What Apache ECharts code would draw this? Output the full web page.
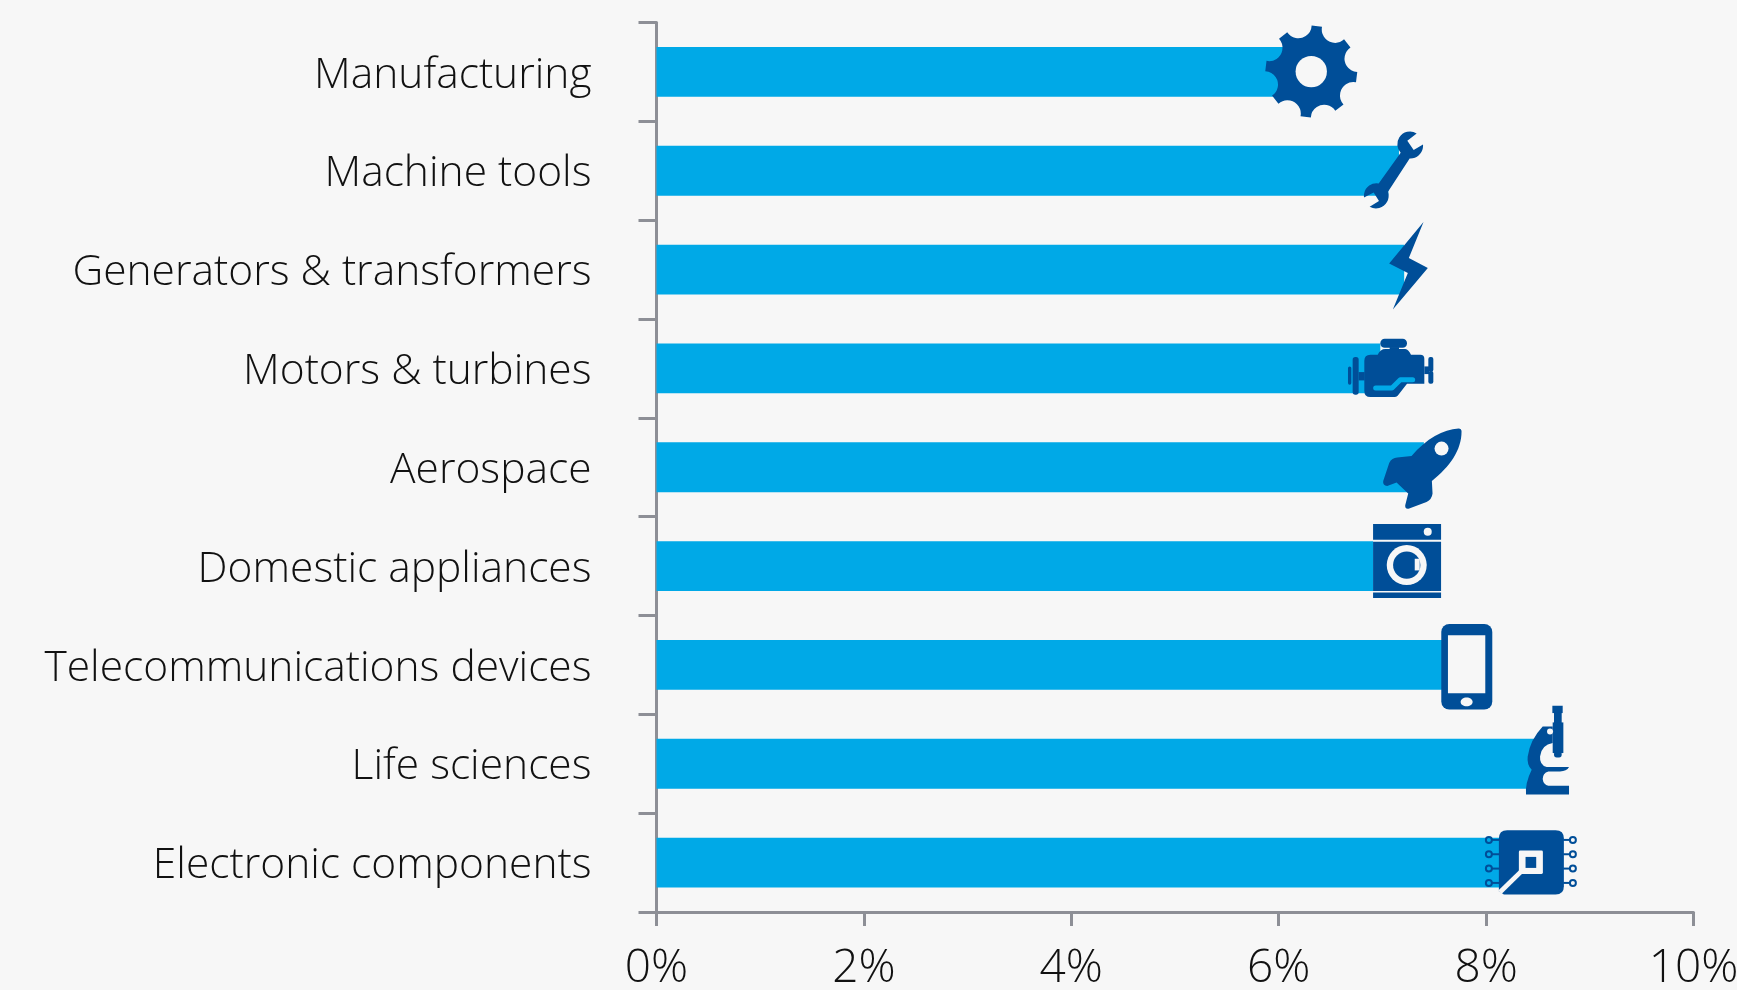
<!DOCTYPE html>
<html><head><meta charset="utf-8">
<style>html,body{margin:0;padding:0;background:#f7f7f7}#c{width:1737px;height:990px}</style>
<script src="https://cdn.jsdelivr.net/npm/echarts@6/dist/echarts.min.js"></script>
</head><body><div id="c"></div>
<script>
const categories = ['Manufacturing','Machine tools','Generators & transformers','Motors & turbines','Aerospace','Domestic appliances','Telecommunications devices','Life sciences','Electronic components'];
const values = [6.06,7.16,7.21,6.98,7.40,6.91,7.60,8.52,8.30];
const tickLabels = ['0%','2%','4%','6%','8%','10%'];

const BG='#f7f7f7', BAR='#00a9e7', ICON='#004e98', AXIS='#8d8f96', TEXT='#111111';
const FONT='"Open Sans", "Noto Sans", sans-serif';

function gearPath(cx,cy){
  let d='';const R=138,H=6.5,start=-83;
  const p=(a,r)=>[(cx+r*Math.cos(a*Math.PI/180)).toFixed(1),(cy+r*Math.sin(a*Math.PI/180)).toFixed(1)].join(' ');
  for(let i=0;i<8;i++){
    const a=start+45*i;
    d+=(i?'L ':'M ')+p(a-H,R)+' L '+p(a+H,R)+' A 40 40 0 0 0 '+p(a+45-H,R)+' ';
  }
  return d+'Z';
}
const circ=(cx,cy,r,fill,extra)=>Object.assign({type:'circle',shape:{cx,cy,r},style:{fill}},extra||{});
const rr=(x,y,w,h,r,fill)=>({type:'rect',shape:{x,y,width:w,height:h,r},style:{fill}});
const pth=(d,fill)=>({type:'path',shape:{pathData:d},style:{fill}});
const pins=[691,734,777,820];

// icon artwork, in a 3x drawing frame; anchor = point of the frame that sits on the bar end
const icons=[
 {anchor:[135,186],parts:[pth(gearPath(214,185),ICON),circ(214,185,47,BG)]},
 {anchor:[478,482],parts:[
   pth('M 512 436 L 446 540 L 446 565 L 510 565 Z',BG),
   pth('M 531 370 A 38 38 0 0 0 483 428 L 417 520 A 38 38 0 0 0 373 562 L 402 547 L 418 573 L 390 590 A 38 38 0 0 0 445 545 L 510 445 A 38 38 0 0 0 550 403 L 522 420 L 503 392 Z',ICON)]},
 {anchor:[492,780],parts:[pth('M 550 637 L 506 745 L 563 775 L 458 900 L 503 790 L 447 762 Z',ICON)]},
 {anchor:[240,144],parts:[
   rr(240,55,80,27,13,ICON),rr(268,80,28,12,0,ICON),
   pth('M 210 103 L 232 103 Q 240 86 255 86 L 315 86 Q 325 88 332 103 L 360 103 Q 372 103 372 115 L 372 190 L 320 190 L 292 226 Q 288 230 282 230 L 210 230 Q 192 230 192 212 L 192 121 Q 192 103 210 103 Z',ICON),
   rr(157,110,18,113,8,ICON),rr(143,138,10,55,5,ICON),rr(175,155,18,25,0,ICON),
   rr(372,138,14,23,0,ICON),rr(384,110,15,44,6,ICON),rr(384,152,15,38,6,ICON),
   {type:'polyline',shape:{points:[[226,203],[275,203],[300,178],[337,178]]},style:{stroke:BAR,lineWidth:15,lineCap:'round',lineJoin:'round',fill:null}}]},
 {anchor:[372,441],parts:[
   pth('M 476 325 C 430 328 380 355 335 407 L 292 412 Q 276 413 268 428 L 250 482 Q 248 496 262 497 L 290 487 L 325 520 L 316 555 Q 315 568 328 565 L 380 545 Q 396 538 398 520 L 396 482 C 450 440 485 390 485 334 Q 485 325 476 325 Z',ICON),
   circ(425,385,21,BG)]},
 {anchor:[219,738],parts:[
   rr(219,612,204,47,0,ICON),rr(219,665,204,148,0,ICON),rr(219,817,204,17,0,ICON),
   circ(383,635,12,BG),circ(320,735,60,BG),circ(320,735,41,ICON),rr(344,716,15,35,0,BG)]},
 {anchor:[135,165],parts:[
   rr(125,42,153,257,24,ICON),rr(145,76,112,174,0,BG),
   {type:'ellipse',shape:{cx:201,cy:276,rx:18,ry:13},style:{fill:BG}}]},
 {anchor:[420,462],parts:[
   rr(457,288,31,22,0,ICON),rr(462,308,23,34,0,ICON),rr(458,338,32,92,0,ICON),rr(462,425,23,18,8,ICON),
   pth('M 428 350 L 458 350 L 458 400 Q 425 405 420 440 Q 418 465 440 472 L 507 472 Q 500 485 480 485 L 445 485 Q 428 490 428 508 Q 430 525 445 528 L 507 528 L 507 554 L 378 554 Q 375 520 395 480 Q 380 465 383 440 Q 390 390 428 350 Z',ICON),
   circ(450,365,9,BG)]},
 {anchor:[350,759],parts:[
   ...pins.flatMap(y=>[
     rr(274,y-3,24,6,0,ICON),
     {type:'circle',shape:{cx:265,cy:y,r:9},style:{fill:null,stroke:ICON,lineWidth:6}},
     rr(488,y-3,22,6,0,ICON),
     {type:'circle',shape:{cx:517,cy:y,r:9},style:{fill:null,stroke:ICON,lineWidth:6}}]),
   pth('M 320 662 L 465 662 Q 490 662 490 687 L 490 830 Q 490 855 465 855 L 310 855 L 295 845 L 295 687 Q 295 662 320 662 Z',ICON),
   {type:'polyline',shape:{points:[[370,778],[298,848]]},style:{stroke:BG,lineWidth:14,fill:null}},
   rr(355,723,72,70,4,BG),rr(375,742,32,33,0,ICON)]}
];

const chart=echarts.init(document.getElementById('c'),null,{renderer:'canvas'});
chart.setOption({
  animation:false,
  backgroundColor:BG,
  grid:{left:656.5,top:22.5,width:1037,height:889.5,containLabel:false,outerBoundsMode:'none'},
  xAxis:{type:'value',min:0,max:10,interval:2,position:'bottom',
    splitLine:{show:false},
    axisLine:{show:true,onZero:false,lineStyle:{color:AXIS,width:3}},
    axisTick:{show:true,length:14,lineStyle:{color:AXIS,width:3}},
    axisLabel:{margin:34,color:TEXT,fontFamily:FONT,fontWeight:300,fontSize:46,showMinLabel:true,showMaxLabel:true,
      formatter:v=>tickLabels[v/2]}},
  yAxis:{type:'category',inverse:true,data:categories,
    axisLine:{show:true,onZero:false,lineStyle:{color:AXIS,width:3}},
    axisTick:{show:true,length:18,lineStyle:{color:AXIS,width:3}},
    axisLabel:{margin:65,color:TEXT,fontFamily:FONT,fontWeight:300,fontSize:42.5,verticalAlign:'top',lineHeight:7}},
  series:[
    {type:'bar',data:values,barWidth:'50.5%',itemStyle:{color:BAR},silent:true,z:2},
    {type:'custom',coordinateSystem:'cartesian2d',z:3,silent:true,clip:false,
     encode:{x:0,y:1},
     data:values.map((v,i)=>[v,i]),
     renderItem(params,api){
       const i=params.dataIndex, p=api.coord([api.value(0),i]), ic=icons[i];
       return {type:'group',x:p[0],y:p[1],scaleX:1/3,scaleY:1/3,
         children:[{type:'group',x:-ic.anchor[0],y:-ic.anchor[1],children:ic.parts}]};
     }}
  ]
});
</script></body></html>
